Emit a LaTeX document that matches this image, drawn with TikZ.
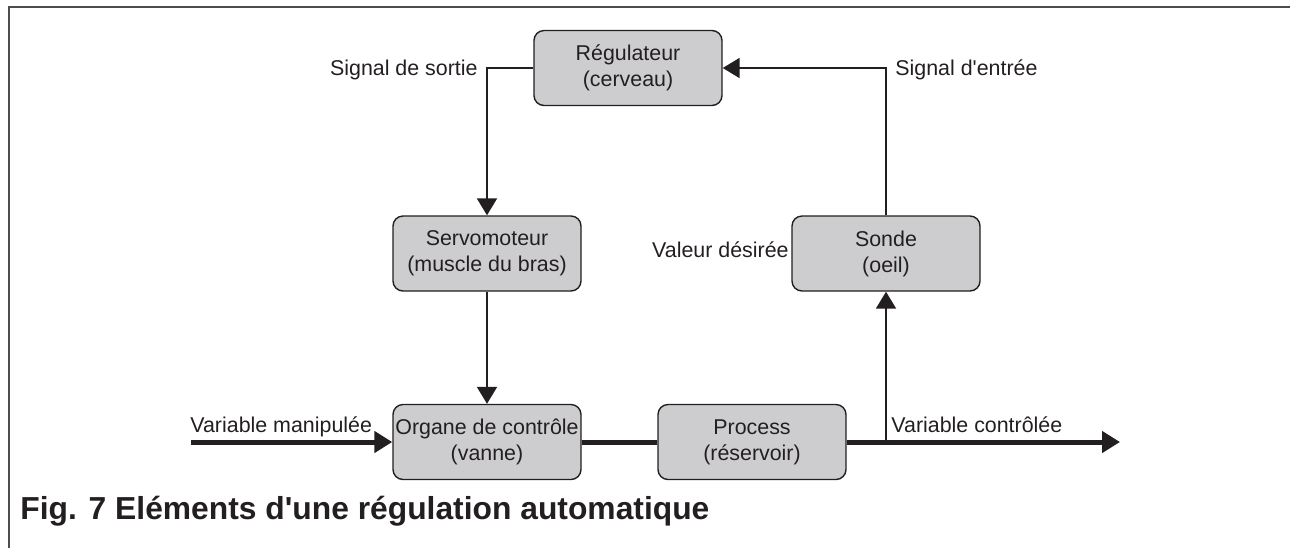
\documentclass[tikz,border=0pt]{standalone}
\usepackage{fontspec}
\setmainfont{Liberation Sans}
\usepackage{xcolor}
\usetikzlibrary{arrows.meta, positioning}
\definecolor{ink}{HTML}{231F20}
\definecolor{boxgray}{HTML}{CDCDCF}

\begin{document}
\begin{tikzpicture}[x=0.5pt, y=-0.5pt,
    block/.style={draw=ink, fill=boxgray, line width=0.7pt, rounded corners=5pt,
      minimum width=94pt, minimum height=37.5pt, align=center, inner sep=0pt,
      text=ink, font=\fontsize{10.7}{13}\selectfont},
    lbl/.style={inner sep=0pt, text=ink, font=\fontsize{10.7}{13}\selectfont},
    sig/.style={draw=ink, line width=1pt, -{Triangle[length=8.5pt, width=10pt]}},
    flow/.style={draw=ink, line width=2.5pt, -{Triangle[length=9pt, width=10.5pt]}}]
  \useasboundingbox (0,0) rectangle (1290,548);
  % frame
  \draw[ink!80, line width=1pt] (9,548) -- (9,7) -- (1290,7);
  % blocks
  \node[block] (reg) at (628,68) {Régulateur\\(cerveau)};
  \node[block] (servo) at (487,253.5) {Servomoteur\\(muscle du bras)};
  \node[block] (sonde) at (886,253.5) {Sonde\\(oeil)};
  \node[block] (organe) at (487,442) {Organe de contrôle\\(vanne)};
  \node[block] (process) at (752,442) {Process\\(réservoir)};
  \coordinate (in) at (191,442);
  \coordinate (out) at (1120,442);
  \coordinate (tap) at (886,442);
  % signals
  \draw[sig] (reg.west) -| (servo.north);
  \draw[sig] (sonde.north) |- (reg.east);
  \draw[sig] (servo.south) -- (organe.north);
  \draw[sig] (tap) -- (sonde.south);
  % main flow
  \draw[flow] (in) -- (organe.west);
  \draw[flow, -] (organe.east) -- (process.west);
  \draw[flow] (process.east) -- (out);
  % labels
  \node[lbl, anchor=base east] (sortie) at (478,75) {Signal de sortie};
  \node[lbl, anchor=base west] (entree) at (895,75) {Signal d\textquotesingle entrée};
  \node[lbl, anchor=base east] (desiree) at (789,257) {Valeur désirée};
  \node[lbl, anchor=base west] (manip) at (190,432) {Variable manipulée};
  \node[lbl, anchor=base west] (contr) at (891,432) {Variable contrôlée};
  \node[lbl, anchor=base west, font=\bfseries\fontsize{15.9}{18}\selectfont] (caption) at (20,519)
    {Fig. 7 Eléments d\textquotesingle une régulation automatique};
\end{tikzpicture}
\end{document}
